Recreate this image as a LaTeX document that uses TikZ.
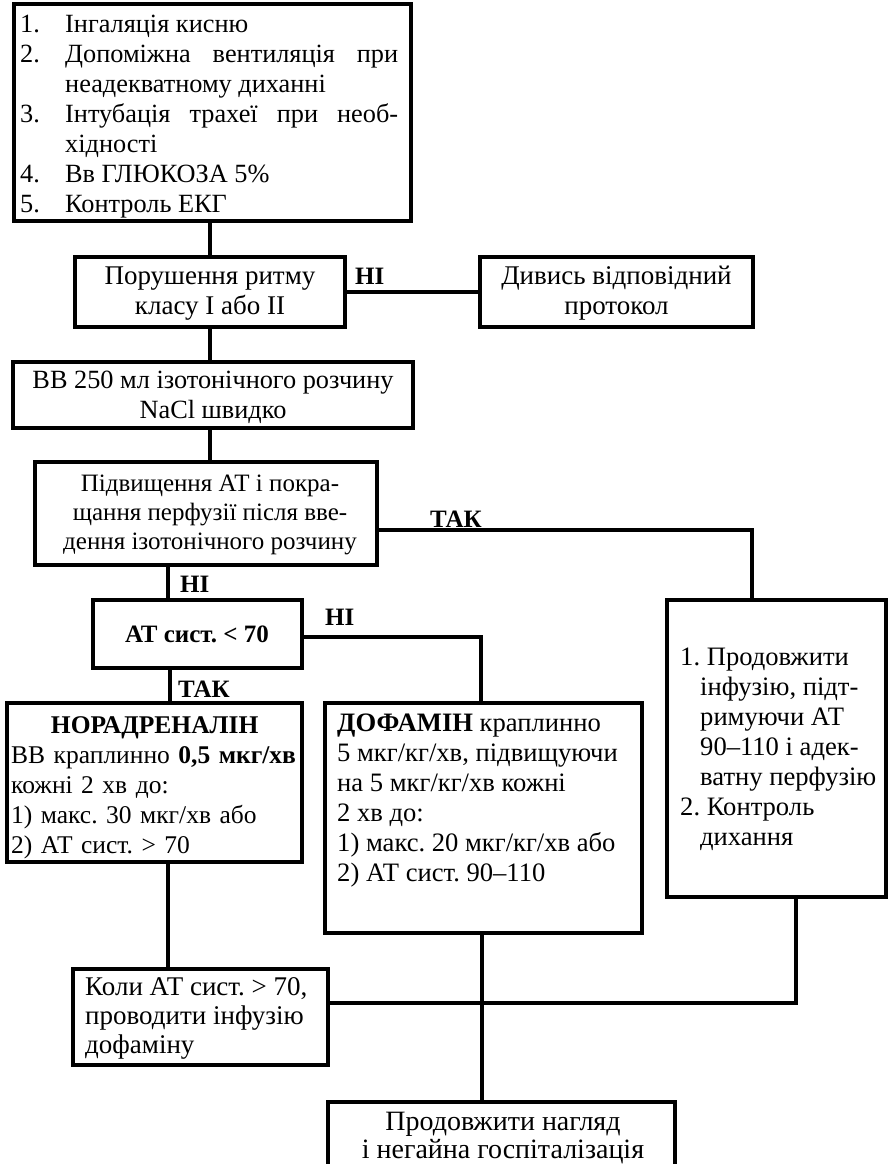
\documentclass[tikz,border=0pt]{standalone}
\usepackage{fontspec}
\setmainfont{Liberation Serif}
\frenchspacing
\begin{document}
\frenchspacing
\begin{tikzpicture}[x=1pt,y=-1pt,
  box/.style={draw, line width=4pt, inner sep=0pt, fill=none},
  ln/.style={line width=4pt},
  txt/.style={inner sep=0pt, font=\fontsize{26.5}{30}\selectfont},
  lbl/.style={inner sep=0pt, font=\fontsize{25}{30}\selectfont\bfseries, anchor=base west}]
\useasboundingbox (0,0) rectangle (888,1164);

% boxes
\node[box, minimum width=397pt, minimum height=217pt] (b1) at (212.5,112.5) {};
\node[box, minimum width=270pt, minimum height=70pt] (b2) at (210,292) {};
\node[box, minimum width=273pt, minimum height=70pt] (b2r) at (616.5,292) {};
\node[box, minimum width=400pt, minimum height=66pt] (b3) at (213,395) {};
\node[box, minimum width=342pt, minimum height=103pt] (b4) at (206,513.5) {};
\node[box, minimum width=209pt, minimum height=68pt] (b5) at (197.5,634) {};
\node[box, minimum width=295pt, minimum height=159pt] (b6) at (154.5,782.5) {};
\node[box, minimum width=317pt, minimum height=230pt] (b7) at (483.5,818) {};
\node[box, minimum width=219pt, minimum height=297pt] (br) at (776.5,748.5) {};
\node[box, minimum width=255pt, minimum height=96pt] (b8) at (200.5,1017) {};
\node[box, minimum width=347pt, minimum height=98pt] (b9) at (501.5,1151) {};

% texts (anchor base = baseline of the last line)
\node[txt, anchor=base west, align=left, font=\fontsize{26.3}{30}\selectfont] (t1) at (20,212) {%
\makebox[45pt][l]{1.}Інгаляція кисню\\
\makebox[45pt][l]{2.}\makebox[333pt][s]{Допоміжна вентиляція при}\\
\hspace*{45pt}неадекватному диханні\\
\makebox[45pt][l]{3.}\makebox[333pt][s]{Інтубація трахеї при необ-}\\
\hspace*{45pt}хідності\\
\makebox[45pt][l]{4.}Вв ГЛЮКОЗА 5\%\\
\makebox[45pt][l]{5.}Контроль ЕКГ};
\node[txt, anchor=base, align=center, font=\fontsize{27}{30}\selectfont] (t2) at (210,314) {Порушення ритму\\класу I або II};
\node[txt, anchor=base, align=center, font=\fontsize{27}{30}\selectfont] (t2r) at (616.5,314) {Дивись відповідний\\протокол};
\node[txt, anchor=base, align=center, font=\fontsize{26.3}{30}\selectfont] (t3) at (213,418) {ВВ 250 мл ізотонічного розчину\\NaCl швидко};
\node[txt, anchor=base, align=center, font=\fontsize{25}{29}\selectfont] (t4) at (210,549) {Підвищення АТ і покра-\\щання перфузії після вве-\\дення ізотонічного розчину};
\node[txt, anchor=base, font=\fontsize{25}{30}\selectfont\bfseries] (t5) at (197,642) {АТ сист. < 70};
\node[txt, anchor=base west, align=left, text width=287pt, font=\fontsize{25.5}{30}\selectfont] (t6) at (11,733) {%
\makebox[\linewidth][c]{\textbf{НОРАДРЕНАЛІН}}\\
ВВ краплинно \textbf{0,5 мкг/хв}\\
кожні 2 хв до:\\
1) макс. 30 мкг/хв або\\
2) АТ сист. > 70};
\node[txt, anchor=base west, align=left, font=\fontsize{26.6}{30}\selectfont] (t7) at (337,881) {%
\textbf{ДОФАМІН} краплинно\\
5 мкг/кг/хв, підвищуючи\\
на 5 мкг/кг/хв кожні\\
2 хв до:\\
1) макс. 20 мкг/кг/хв або\\
2) АТ сист. 90–110};
\node[txt, anchor=base west, align=left, font=\fontsize{26.6}{30}\selectfont] (tr) at (680,845) {%
1. Продовжити\\
\hspace*{20pt}інфузію, підт-\\
\hspace*{20pt}римуючи АТ\\
\hspace*{20pt}90–110 і адек-\\
\hspace*{20pt}ватну перфузію\\
2. Контроль\\
\hspace*{20pt}дихання};
\node[txt, anchor=base west, align=left, font=\fontsize{27}{29}\selectfont] (t8) at (85,1053) {%
Коли АТ сист. > 70,\\
проводити інфузію\\
дофаміну};
\node[txt, anchor=base, align=center, font=\fontsize{28}{28}\selectfont] (t9) at (503,1158) {%
Продовжити нагляд\\
і негайна госпіталізація};

% connectors
\draw[ln] (b1.south -| b2.north) -- (b2.north);
\draw[ln] (b2.east) -- (b2r.west);
\draw[ln] (b2.south) -- (b2.south |- b3.north);
\draw[ln] (b3.south -| b2.south) -- (b4.north -| b2.south);
\draw[ln] ([yshift=-16.5pt]b4.east) -| ([xshift=-24.5pt]br.north);
\draw[ln] ([xshift=-29.5pt]b5.north) -- ([xshift=-29.5pt]b5.north |- b4.south);
\draw[ln] ([yshift=-3pt]b5.east) -| ([xshift=-2.5pt]b7.north);
\draw[ln] ([xshift=15.5pt]b6.north) -- ([xshift=15.5pt]b6.north |- b5.south);
\draw[ln] ([xshift=13.5pt]b6.south) -- ([xshift=13.5pt]b6.south |- b8.north);
\draw[ln] ([xshift=-1.5pt]b7.south) -- ([xshift=-1.5pt]b7.south |- b9.north);
\draw[ln] ([yshift=14pt]b8.east) -| ([xshift=19.5pt]br.south);

% labels
\node[lbl] (l1) at (355,284) {НІ};
\node[lbl] (l2) at (430,527) {ТАК};
\node[lbl] (l3) at (180,592) {НІ};
\node[lbl] (l4) at (325,625) {НІ};
\node[lbl] (l5) at (178,697) {ТАК};
\end{tikzpicture}
\end{document}
